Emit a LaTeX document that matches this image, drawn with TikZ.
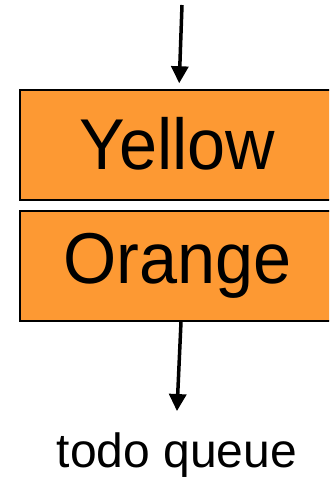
\documentclass[tikz,border=0pt]{standalone}
\usepackage{fontspec}
\setmainfont{Liberation Sans}
\usetikzlibrary{arrows.meta}
\definecolor{boxorange}{RGB}{253,153,51}

\begin{document}
\begin{tikzpicture}[x=1pt, y=-1pt,
  stage/.style={draw=black, line width=1.5pt, fill=boxorange, minimum width=315pt,
    minimum height=110pt, inner sep=0pt, font=\fontsize{72}{74}\selectfont},
  flow/.style={-{Triangle[width=17pt,length=17pt]}, line width=3.5pt}]
  \clip (0,0) rectangle (329,481);
  % boxes
  \node[stage] (yellow) at (177.5,145) {\raisebox{3pt}{\scalebox{0.95}[1]{Yellow}}};
  \node[stage] (orange) at (177.5,266) {\scalebox{0.95}[1]{Orange}};
  \node[anchor=base, inner sep=0pt, font=\fontsize{48}{50}\selectfont] (queue) at (177,467) {todo queue};
  % arrows
  \coordinate (in) at (182,5);
  \draw[flow, shorten >=6pt] (in) -- ([xshift=1.5pt]yellow.north);
  \draw[flow, shorten >=21pt] ([xshift=3.5pt]orange.south) -- ([xshift=-1pt]queue.north);
\end{tikzpicture}
\end{document}
